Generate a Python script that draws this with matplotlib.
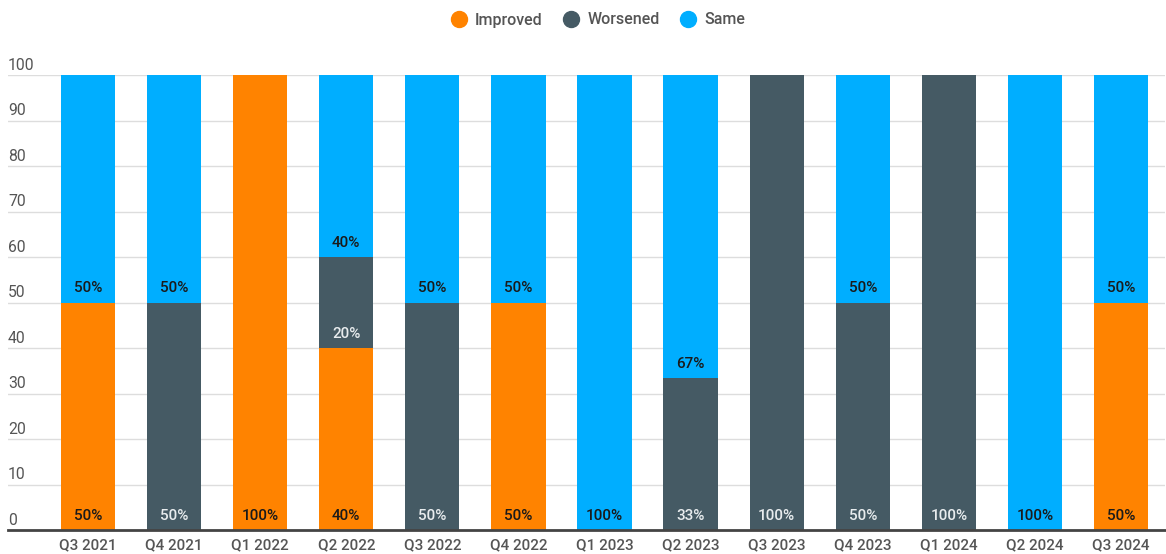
import numpy as np
import matplotlib
matplotlib.use("Agg")
import matplotlib.pyplot as plt

plt.rcParams['font.family'] = ['Roboto', 'DejaVu Sans']

quarters = ["Q3 2021", "Q4 2021", "Q1 2022", "Q2 2022", "Q3 2022", "Q4 2022", "Q1 2023",
            "Q2 2023", "Q3 2023", "Q4 2023", "Q1 2024", "Q2 2024", "Q3 2024"]
improved = [50, 0, 100, 40, 0, 50, 0, 0, 0, 0, 0, 0, 50]
worsened = [0, 50, 0, 20, 50, 0, 0, 33.33, 100, 50, 100, 0, 0]
same = [50, 50, 0, 40, 50, 50, 100, 66.67, 0, 50, 0, 100, 50]
series_names = ["Improved", "Worsened", "Same"]
colors = ["#FF8300", "#455A64", "#00AEFF"]
label_colors = ["#1a1a1a", "#e8ecee", "#1a1a1a"]
yticks = [0, 10, 20, 30, 40, 50, 60, 70, 80, 90, 100]

W, H = 1166, 554
fig = plt.figure(figsize=(W / 100, H / 100), dpi=100)
ax = fig.add_axes([8 / W, 1 - 530 / H, (1165 - 8) / W, (530 - 75) / H])

x = np.arange(len(quarters))
bottom = np.zeros(len(quarters))
for vals, name, col, lcol in zip([improved, worsened, same], series_names, colors, label_colors):
    vals = np.array(vals, dtype=float)
    ax.bar(x, vals, width=0.63, bottom=bottom, color=col, zorder=2)
    for xi, b, v in zip(x, bottom, vals):
        if v > 0:
            ax.text(xi, b + 2.2, f"{round(v)}%", ha="center", va="baseline",
                    fontsize=11, fontweight="medium", color=lcol, zorder=3)
    bottom += vals

xl = -80 / 86.08
ax.set_xlim(xl, 12 + 44 / 86.08)
ax.set_ylim(0, 100)
for s in ["top", "right", "left"]:
    ax.spines[s].set_visible(False)
ax.spines["bottom"].set_color("#444444")
ax.spines["bottom"].set_linewidth(2)
ax.set_yticks(yticks)
ax.set_yticklabels([])
ax.tick_params(axis="y", length=0)
ax.grid(axis="y", color="#dddddd", linewidth=1, zorder=0)
for t in yticks:
    ax.text(xl, t + 1.1, str(t), ha="left", va="baseline", fontsize=11.3, color="#555555")
ax.set_xticks(x)
ax.set_xticklabels(quarters, fontsize=11, color="#555555", fontweight="medium")
ax.tick_params(axis="x", length=0, pad=6)

handles = [plt.Line2D([], [], marker="o", linestyle="", markersize=11.5, color=c) for c in colors]
fig.legend(handles, series_names, loc="center", bbox_to_anchor=(598 / W, 1 - 20 / H), ncol=3,
           frameon=False, prop={"size": 11.5, "weight": "medium"}, handletextpad=0.5,
           columnspacing=1.3, labelcolor="#555555", handlelength=1)

fig.savefig("out.png", dpi=100)
